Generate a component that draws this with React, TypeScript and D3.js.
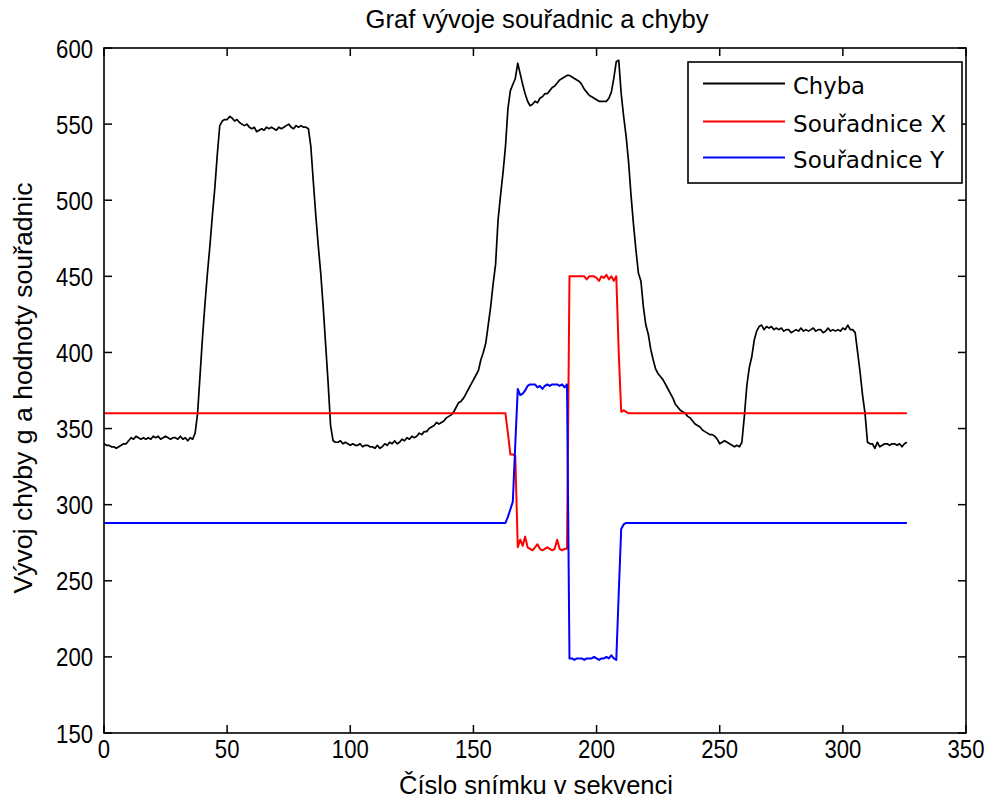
import React from "react";
import * as d3 from "d3";

const title = "Graf vývoje souřadnic a chyby";
const xLabel = "Číslo snímku v sekvenci";
const yLabel = "Vývoj chyby g a hodnoty souřadnic";
const xTicks = [0, 50, 100, 150, 200, 250, 300, 350];
const yTicks = [150, 200, 250, 300, 350, 400, 450, 500, 550, 600];
const seriesNames = ["Chyba", "Souřadnice X", "Souřadnice Y"];
const seriesColors = ["#000000", "#ff0000", "#0000ff"];

// frame index = array index (0..326)
const chyba = [
  340,339,339,338,338,337,338,339,340,340,
  342,344,343,345,344,343,344,343,344,343,
  345,344,345,343,344,345,344,343,344,344,
  343,345,343,344,342,344,343,347,
  360,385,410,432,452,470,490,508,530,549,
  552,553,553,555,554,552,553,551,550,549,
  550,548,547,548,545,546,547,546,548,547,
  548,547,546,548,547,548,549,550,548,547,
  549,548,549,548,548,547,
  535,512,490,470,452,430,405,380,352,
  342,341,341,342,340,341,340,339,340,339,
  339,340,338,339,339,338,338,337,339,337,
  338,340,339,341,340,342,340,341,343,342,
  344,343,345,344,345,347,346,348,348,350,
  351,352,354,
  353,354,355,357,358,359,361,364,367,368,370,373,376,379,
  382,385,388,395,400,406,418,430,445,458,
  487,503,518,535,560,572,576,580,590,
  583,576,570,565,562,563,565,564,567,568,
  570,570,572,574,575,577,579,580,581,582,
  582,581,580,579,578,576,573,571,569,568,
  567,566,565,565,565,565,567,571,580,591,
  592,570,555,542,525,503,484,467,452,447,
  430,418,412,402,395,389,386,384,382,379,
  376,373,370,366,364,362,361,360,358,357,
  355,353,352,351,349,348,347,346,346,345,
  343,340,341,342,341,340,339,338,339,338,
  341,358,378,390,397,408,414,417,418,
  415,417,416,417,415,416,415,416,414,415,
  415,413,414,415,414,416,414,415,414,415,
  416,414,415,415,413,414,416,414,415,414,
  415,414,416,415,418,415,415,413,
  400,387,372,360,341,340,340,337,341,338,
  339,340,340,339,340,340,339,340,338,340,341,
];

const souradniceX = [
  360,360,360,360,360,360,360,360,360,360,
  360,360,360,360,360,360,360,360,360,360,
  360,360,360,360,360,360,360,360,360,360,
  360,360,360,360,360,360,360,360,360,360,
  360,360,360,360,360,360,360,360,360,360,
  360,360,360,360,360,360,360,360,360,360,
  360,360,360,360,360,360,360,360,360,360,
  360,360,360,360,360,360,360,360,360,360,
  360,360,360,360,360,360,360,360,360,360,
  360,360,360,360,360,360,360,360,360,360,
  360,360,360,360,360,360,360,360,360,360,
  360,360,360,360,360,360,360,360,360,360,
  360,360,360,360,360,360,360,360,360,360,
  360,360,360,360,360,360,360,360,360,360,
  360,360,360,360,360,360,360,360,360,360,
  360,360,360,360,360,360,360,360,360,360,
  360,360,360,360,
  347,333,333,332,272,277,273,279,272,271,
  270,272,274,271,270,271,272,271,270,271,
  277,271,270,271,271,
  450,450,450,450,450,450,450,448,450,450,
  450,449,447,450,449,451,448,450,447,450,
  400,361,362,361,
  360,360,360,360,360,360,360,360,360,360,
  360,360,360,360,360,360,360,360,360,360,
  360,360,360,360,360,360,360,360,360,360,
  360,360,360,360,360,360,360,360,360,360,
  360,360,360,360,360,360,360,360,360,360,
  360,360,360,360,360,360,360,360,360,360,
  360,360,360,360,360,360,360,360,360,360,
  360,360,360,360,360,360,360,360,360,360,
  360,360,360,360,360,360,360,360,360,360,
  360,360,360,360,360,360,360,360,360,360,
  360,360,360,360,360,360,360,360,360,360,
  360,360,360,360,
];

const souradniceY = [
  288,288,288,288,288,288,288,288,288,288,
  288,288,288,288,288,288,288,288,288,288,
  288,288,288,288,288,288,288,288,288,288,
  288,288,288,288,288,288,288,288,288,288,
  288,288,288,288,288,288,288,288,288,288,
  288,288,288,288,288,288,288,288,288,288,
  288,288,288,288,288,288,288,288,288,288,
  288,288,288,288,288,288,288,288,288,288,
  288,288,288,288,288,288,288,288,288,288,
  288,288,288,288,288,288,288,288,288,288,
  288,288,288,288,288,288,288,288,288,288,
  288,288,288,288,288,288,288,288,288,288,
  288,288,288,288,288,288,288,288,288,288,
  288,288,288,288,288,288,288,288,288,288,
  288,288,288,288,288,288,288,288,288,288,
  288,288,288,288,288,288,288,288,288,288,
  288,288,288,288,
  292,297,302,340,376,
  372,373,375,378,379,379,379,377,378,376,
  378,379,378,379,379,379,378,379,377,379,
  199,199,198,199,199,199,198,199,199,199,
  200,199,198,199,199,200,199,201,199,198,
  242,284,287,288,
  288,288,288,288,288,288,288,288,288,288,
  288,288,288,288,288,288,288,288,288,288,
  288,288,288,288,288,288,288,288,288,288,
  288,288,288,288,288,288,288,288,288,288,
  288,288,288,288,288,288,288,288,288,288,
  288,288,288,288,288,288,288,288,288,288,
  288,288,288,288,288,288,288,288,288,288,
  288,288,288,288,288,288,288,288,288,288,
  288,288,288,288,288,288,288,288,288,288,
  288,288,288,288,288,288,288,288,288,288,
  288,288,288,288,288,288,288,288,288,288,
  288,288,288,288,
];

const allSeries = [chyba, souradniceX, souradniceY];

export default function App() {
  const W = 999;
  const H = 802;
  const left = 104, right = 966, top = 48, bottom = 733;
  const x = d3.scaleLinear().domain([0, 350]).range([left, right]);
  const y = d3.scaleLinear().domain([150, 600]).range([bottom, top]);
  const line = d3
    .line<number>()
    .x((_d, i) => x(i))
    .y((d) => y(d));

  const tickFont = "'Liberation Sans', Arial, sans-serif";
  const tickLen = 8;
  const digitW = 12.3;

  const legendX = 688, legendY = 62, legendW = 274, legendH = 121;
  const legendRows = [83.5, 121.5, 157.5];
  const legendLens = [72, 153, 151];

  return (
    <svg
      width={W}
      height={H}
      style={{ position: "absolute", left: 0, top: 0, background: "#fff" }}
    >
      <rect x={0} y={0} width={W} height={H} fill="#fff" />
      {allSeries.map((s, k) => (
        <path
          key={k}
          d={line(s) || ""}
          fill="none"
          stroke={seriesColors[k]}
          strokeWidth={k === 0 ? 1.7 : 2}
          strokeLinejoin="round"
        />
      ))}
      <rect
        x={left}
        y={top}
        width={right - left}
        height={bottom - top}
        fill="none"
        stroke="#000"
        strokeWidth={1.6}
      />
      {xTicks.map((t) => (
        <g key={"xt" + t}>
          <line x1={x(t)} x2={x(t)} y1={bottom} y2={bottom - tickLen} stroke="#000" strokeWidth={1.5} />
          <line x1={x(t)} x2={x(t)} y1={top} y2={top + tickLen} stroke="#000" strokeWidth={1.5} />
          <text
            x={x(t)}
            y={757.5}
            textAnchor="middle"
            fontFamily={tickFont}
            fontSize={26}
            textLength={String(t).length * digitW}
            lengthAdjust="spacingAndGlyphs"
            fill="#000"
          >
            {t}
          </text>
        </g>
      ))}
      {yTicks.map((t) => (
        <g key={"yt" + t}>
          <line x1={left} x2={left + tickLen} y1={y(t)} y2={y(t)} stroke="#000" strokeWidth={1.5} />
          <line x1={right} x2={right - tickLen} y1={y(t)} y2={y(t)} stroke="#000" strokeWidth={1.5} />
          <text
            x={93}
            y={y(t) + 9.5}
            textAnchor="end"
            fontFamily={tickFont}
            fontSize={26}
            textLength={String(t).length * digitW}
            lengthAdjust="spacingAndGlyphs"
            fill="#000"
          >
            {t}
          </text>
        </g>
      ))}
      <text
        x={537}
        y={28}
        textAnchor="middle"
        fontFamily={tickFont}
        fontSize={26}
        textLength={343}
        lengthAdjust="spacingAndGlyphs"
        fill="#000"
      >
        {title}
      </text>
      <text
        x={536}
        y={794}
        textAnchor="middle"
        fontFamily={tickFont}
        fontSize={25}
        textLength={274}
        lengthAdjust="spacingAndGlyphs"
        fill="#000"
      >
        {xLabel}
      </text>
      <text
        transform={`translate(32, 388) rotate(-90)`}
        textAnchor="middle"
        fontFamily={tickFont}
        fontSize={26}
        textLength={411}
        lengthAdjust="spacingAndGlyphs"
        fill="#000"
      >
        {yLabel}
      </text>
      <rect
        x={legendX}
        y={legendY}
        width={legendW}
        height={legendH}
        fill="#fff"
        stroke="#000"
        strokeWidth={1.6}
      />
      {seriesNames.map((n, k) => (
        <g key={"lg" + k}>
          <line
            x1={703}
            x2={785}
            y1={legendRows[k]}
            y2={legendRows[k]}
            stroke={seriesColors[k]}
            strokeWidth={2}
          />
          <text
            x={793}
            y={legendRows[k] + 10.5}
            fontFamily="'DejaVu Sans', Verdana, sans-serif"
            fontSize={23.5}
            textLength={legendLens[k]}
            lengthAdjust="spacingAndGlyphs"
            fill="#000"
          >
            {n}
          </text>
        </g>
      ))}
    </svg>
  );
}
